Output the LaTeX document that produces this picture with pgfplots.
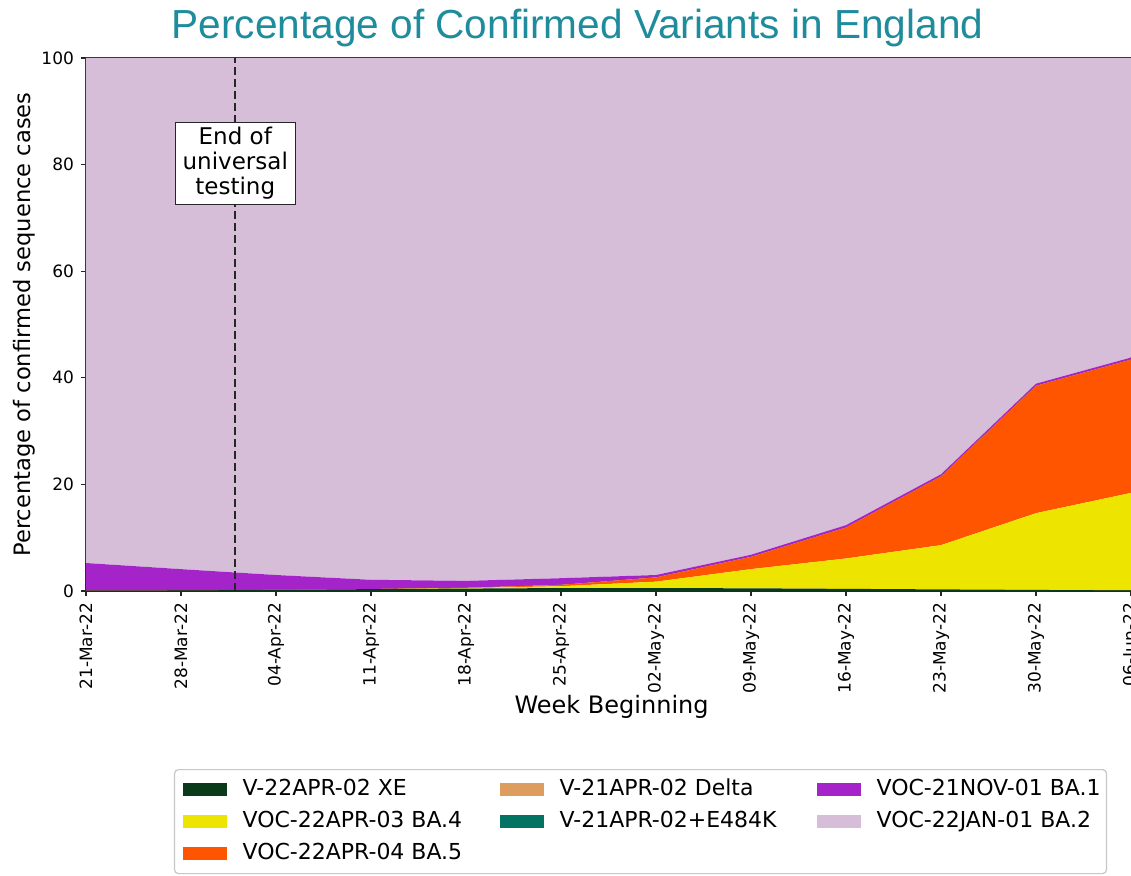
\documentclass[border=0pt]{standalone}
\usepackage{fontspec}
\setmainfont{DejaVu Sans}
\newfontfamily\titlefont{Liberation Sans}
\usepackage{pgfplots}
\pgfplotsset{compat=1.18}
\usepackage{pgfplotstable}
\usetikzlibrary{calc}
\definecolor{cXE}{HTML}{0B3A1A}
\definecolor{cBAfour}{HTML}{EDE500}
\definecolor{cBAfive}{HTML}{FF5500}
\definecolor{cDelta}{HTML}{DD9D5F}
\definecolor{cEfour}{HTML}{047462}
\definecolor{cBAone}{HTML}{A524C9}
\definecolor{cBAtwo}{HTML}{D6BDD8}
\definecolor{titlecol}{HTML}{1E8C9C}

\pgfplotstableread{
x  XE   BA4  BA5  Delta E484K BA1  BA2
0  0.05 0    0    0     0     5.20 94.75
1  0.10 0    0    0     0     4.00 95.90
2  0.20 0    0    0     0     2.80 97.00
3  0.35 0    0    0     0     1.75 97.90
4  0.45 0.10 0.05 0     0     1.30 98.10
5  0.55 0.35 0.25 0     0     1.25 97.60
6  0.55 1.20 0.80 0     0     0.45 97.00
7  0.50 3.60 2.30 0     0     0.40 93.20
8  0.40 5.70 5.80 0     0     0.45 87.65
9  0.30 8.30 12.9 0     0     0.40 78.10
10 0.20 14.4 23.9 0     0     0.40 61.10
11 0.10 18.3 25.0 0     0     0.40 56.20
}\data

\begin{document}
\begin{tikzpicture}
\begin{axis}[
  name=ax,
  width=522.5pt, height=266.5pt, scale only axis,
  xmin=0, xmax=11, ymin=0, ymax=100,
  stack plots=y,
  xtick={0,...,11},
  xticklabels={21-Mar-22,28-Mar-22,04-Apr-22,11-Apr-22,18-Apr-22,25-Apr-22,02-May-22,09-May-22,16-May-22,23-May-22,30-May-22,06-Jun-22},
  ytick={0,20,...,100},
  axis line style={black!85, line width=0.6pt},
  tick style={black!85, line width=0.6pt},
  major tick length=2.5pt, tick align=outside, tick pos=left,
  xticklabel style={rotate=90, anchor=east, font=\fontsize{8.5}{10}\selectfont},
  yticklabel style={font=\fontsize{8.5}{10}\selectfont},
  /pgf/number format/assume math mode=true,
  xlabel={Week Beginning},
  ylabel={Percentage of confirmed sequence cases},
  xlabel style={at={(axis description cs:0.503,-0.2176)}, anchor=center, font=\fontsize{12}{14}\selectfont},
  ylabel style={at={(axis description cs:-0.0593,0.5)}, anchor=center, font=\fontsize{11.3}{13}\selectfont},
  title={Percentage of Confirmed Variants in England},
  title style={at={(axis description cs:0.4703,1)}, anchor=base, yshift=3.7pt, inner sep=0pt, font=\titlefont\fontsize{20.3}{24}\selectfont, text=titlecol},
  legend columns=3,
  legend cell align=left,
  legend image code/.code={\fill[#1, draw=none, sharp corners] (0pt,-3.25pt) rectangle (22pt,3.25pt);},
  legend style={at={(axis description cs:0.0842,-0.334)}, anchor=north west,
    draw=black!22, line width=0.6pt, rounded corners=2pt, fill=white,
    font=\fontsize{11}{13}\selectfont,
    inner xsep=4pt, inner ysep=4pt, row sep=4pt,
    nodes={inner xsep=0pt, inner ysep=0pt, text height=9pt, text depth=3pt},
    /tikz/every odd column/.append style={column sep=8pt},
    /tikz/every even column/.append style={column sep=0pt}},
]
\addplot[fill=cXE, draw=none, forget plot] table[x=x, y=XE] {\data} \closedcycle;
\addplot[fill=cBAfour, draw=none, forget plot] table[x=x, y=BA4] {\data} \closedcycle;
\addplot[fill=cBAfive, draw=none, forget plot] table[x=x, y=BA5] {\data} \closedcycle;
\addplot[fill=cDelta, draw=none, forget plot] table[x=x, y=Delta] {\data} \closedcycle;
\addplot[fill=cEfour, draw=none, forget plot] table[x=x, y=E484K] {\data} \closedcycle;
\addplot[fill=cBAone, draw=none, forget plot] table[x=x, y=BA1] {\data} \closedcycle;
\addplot[fill=cBAtwo, draw=none, forget plot] table[x=x, y=BA2] {\data} \closedcycle;

\addlegendimage{fill=cXE}
\addlegendentry{\makebox[128.5pt][l]{V-22APR-02 XE}}
\addlegendimage{fill=cDelta}
\addlegendentry{\makebox[128.5pt][l]{V-21APR-02 Delta}}
\addlegendimage{fill=cBAone}
\addlegendentry{\makebox[111pt][l]{VOC-21NOV-01 BA.1}}
\addlegendimage{fill=cBAfour}
\addlegendentry{\makebox[128.5pt][l]{VOC-22APR-03 BA.4}}
\addlegendimage{fill=cEfour}
\addlegendentry{\makebox[128.5pt][l]{V-21APR-02+E484K}}
\addlegendimage{fill=cBAtwo}
\addlegendentry{\makebox[111pt][l]{VOC-22JAN-01 BA.2}}
\addlegendimage{fill=cBAfive}
\addlegendentry{\makebox[128.5pt][l]{VOC-22APR-04 BA.5}}
\end{axis}
% end of universal testing (1 April = 11/7 weeks after 21 March)
\coordinate (b) at ($(ax.south west)!0.142857!(ax.south east)$);
\draw[black!85, line width=1pt, dash pattern=on 4pt off 2pt] (b) -- ++(0pt,266.5pt);
\node[draw=black!85, line width=0.6pt, fill=white, align=center, inner xsep=3.7pt, inner ysep=2.5pt,
  font=\fontsize{11.5}{12.5}\selectfont] at ($(b)+(0pt,213.7pt)$) {End of\\universal\\testing};
\pgfresetboundingbox
\path[use as bounding box] ($(ax.south west)+(-43pt,-142.5pt)$) rectangle ($(ax.north east)+(0pt,29pt)$);
\end{tikzpicture}
\end{document}
